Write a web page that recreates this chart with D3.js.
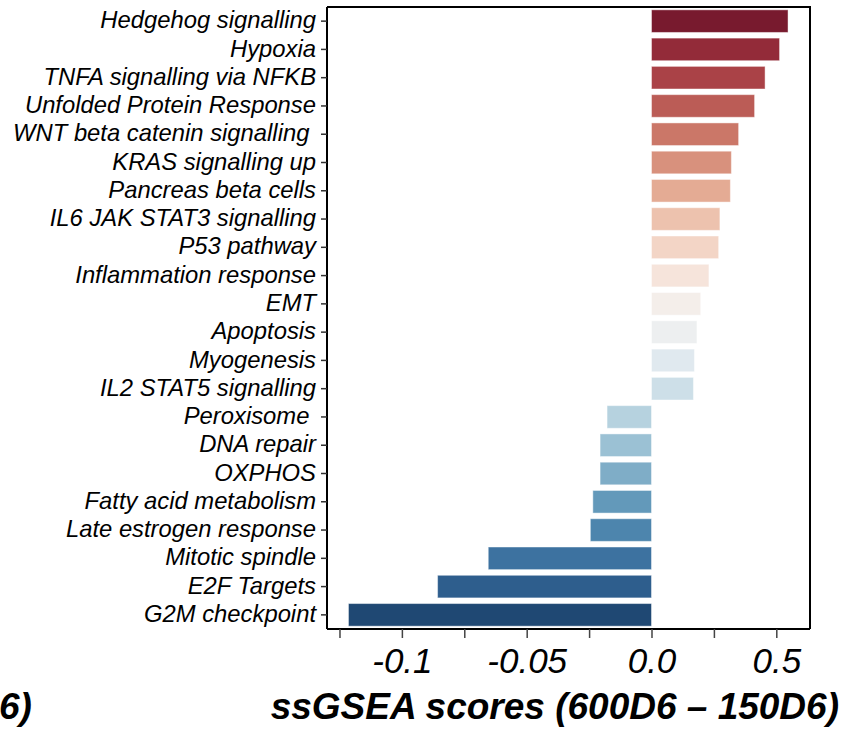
<!DOCTYPE html>
<html>
<head>
<meta charset="utf-8">
<script src="https://cdn.jsdelivr.net/npm/d3@7"></script>
<style>
  body { margin: 0; background: #fff; }
  svg { display: block; font-family: "Liberation Sans", Arial, sans-serif; }
  text { white-space: pre; }
</style>
</head>
<body>
<div class="canvas"></div>
<script>
const categories = [
    'Hedgehog signalling', 'Hypoxia', 'TNFA signalling via NFKB', 'Unfolded Protein Response',
    'WNT beta catenin signalling ', 'KRAS signalling up', 'Pancreas beta cells',
    'IL6 JAK STAT3 signalling', 'P53 pathway', 'Inflammation response', 'EMT', 'Apoptosis',
    'Myogenesis', 'IL2 STAT5 signalling', 'Peroxisome ', 'DNA repair', 'OXPHOS',
    'Fatty acid metabolism', 'Late estrogen response', 'Mitotic spindle', 'E2F Targets',
    'G2M checkpoint'
];
const scores = [
    0.0547, 0.0513, 0.0455, 0.0413, 0.0349, 0.0320, 0.0316, 0.0274, 0.0269, 0.0230, 0.0197,
    0.0182, 0.0172, 0.0168, -0.0178, -0.0206, -0.0206, -0.0235, -0.0245, -0.0654, -0.0857,
    -0.1214
];
const xDomain = [-0.130, 0.0635];
const xTicks = [-0.125, -0.1, -0.075, -0.05, -0.025, 0, 0.025, 0.05];
const labelledTicks = [-0.1, -0.05, 0, 0.05];
const tickLabels = ['-0.1', '-0.05', '0.0', '0.5'];   // the original figure prints 0.5 here
const xTitle = 'ssGSEA scores (600D6 \u2013 150D6)';

draw_bar_chart();

function draw_bar_chart(){

    const svg = d3.select('.canvas')
        .append('svg')
        .attr('width', 846)
        .attr('height', 736);

    const left = 327, right = 810, top = 7, bottom = 629;

    const x = d3.scaleLinear().domain(xDomain).range([left, right]);
    const y = d3.scaleBand().domain(categories).range([top, bottom])
        .paddingInner(0.2).paddingOuter(0.1);

    // seaborn style palette: RdBu sampled, then desaturated to 75%
    const colour = d3.scaleOrdinal()
        .domain(categories)
        .range(categories.map((c, i) => {
            const h = d3.hsl(d3.interpolateRdBu((i + 1) / (categories.length + 1)));
            h.s *= 0.75;
            return h.formatHex();
        }));

    svg.append('g')
        .selectAll('rect')
        .data(categories)
        .join('rect')
        .attr('x', (d, i) => x(Math.min(0, scores[i])))
        .attr('y', d => y(d))
        .attr('width', (d, i) => Math.abs(x(scores[i]) - x(0)))
        .attr('height', y.bandwidth())
        .attr('fill', d => colour(d))
        .attr('stroke', 'rgba(255,255,255,0.45)')
        .attr('stroke-width', 1);

    // frame: top and right
    svg.append('path')
        .attr('d', `M${left},${top}H${right}V${bottom}`)
        .attr('fill', 'none')
        .attr('stroke', '#000')
        .attr('stroke-width', 2);

    const yAxis = svg.append('g')
        .attr('transform', `translate(${left},0)`)
        .call(d3.axisLeft(y).tickSize(6).tickPadding(5).tickSizeOuter(0));
    yAxis.select('.domain').attr('stroke', '#000').attr('stroke-width', 2)
        .attr('d', `M0,${top}V${bottom}`);
    yAxis.selectAll('.tick line').attr('stroke', '#333').attr('stroke-width', 1.5);
    yAxis.selectAll('.tick text')
        .attr('fill', '#000')
        .attr('dy', '0.3em')
        .style('font-size', '23.8px')
        .style('font-style', 'italic')
        .style('font-family', '"Liberation Sans", Arial, sans-serif');

    const xAxis = svg.append('g')
        .attr('transform', `translate(0,${bottom})`)
        .call(d3.axisBottom(x)
            .tickValues(xTicks)
            .tickSize(9)
            .tickSizeOuter(0)
            .tickFormat(d => {
                const i = labelledTicks.findIndex(v => Math.abs(v - d) < 1e-9);
                return i < 0 ? '' : tickLabels[i];
            }));
    xAxis.select('.domain').attr('stroke', '#000').attr('stroke-width', 2)
        .attr('d', `M${left},0H${right}`);
    xAxis.selectAll('.tick line').attr('stroke', '#444').attr('stroke-width', 1.5);
    xAxis.selectAll('.tick text')
        .attr('fill', '#000')
        .attr('y', 44)
        .attr('dy', 0)
        .style('font-size', '35px')
        .style('font-style', 'italic')
        .style('font-family', '"Liberation Sans", Arial, sans-serif');

    svg.append('text')
        .attr('x', 839)
        .attr('y', 719)
        .attr('text-anchor', 'end')
        .style('font-size', '37px')
        .style('font-weight', 'bold')
        .style('font-style', 'italic')
        .text(xTitle);

    // tail of the neighbouring panel's title, clipped by the figure edge
    svg.append('text')
        .attr('x', -1)
        .attr('y', 719)
        .style('font-size', '37px')
        .style('font-weight', 'bold')
        .style('font-style', 'italic')
        .text('6)');
}
</script>
</body>
</html>
